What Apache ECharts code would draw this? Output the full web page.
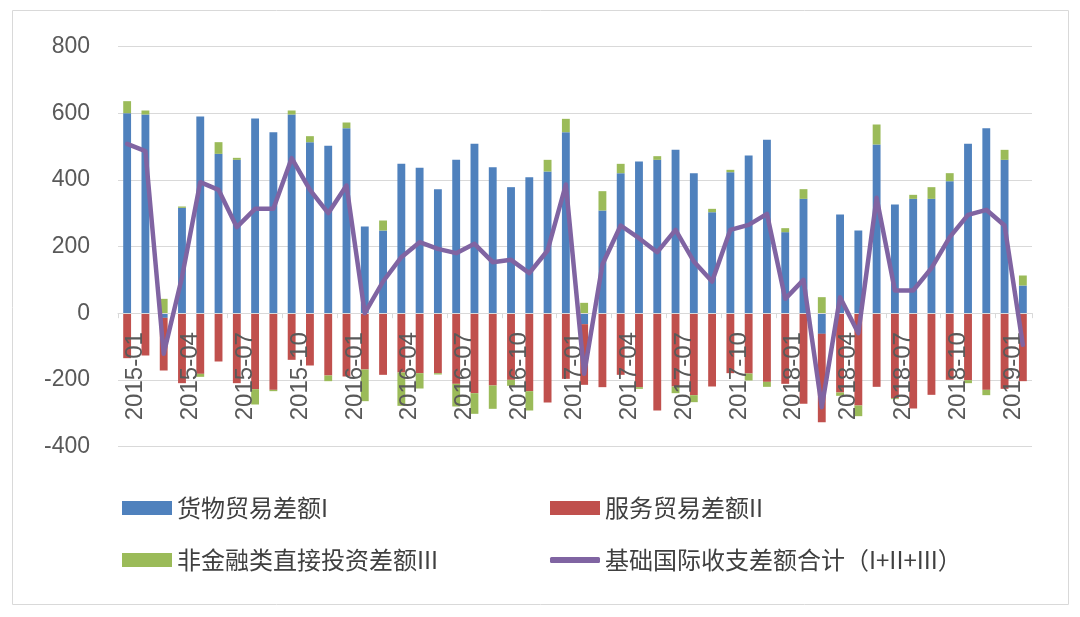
<!DOCTYPE html>
<html>
<head>
<meta charset="utf-8">
<script src="https://cdn.jsdelivr.net/npm/echarts@6/dist/echarts.min.js"></script>
<style>
html,body{margin:0;padding:0;background:#fff;}
#chart{width:1080px;height:617px;}
</style>
</head>
<body>
<div id="chart"></div>
<script>
// Categories: monthly 2015-01 .. 2019-02
const categories = [
  '2015-01','2015-02','2015-03','2015-04','2015-05','2015-06','2015-07','2015-08','2015-09','2015-10','2015-11','2015-12',
  '2016-01','2016-02','2016-03','2016-04','2016-05','2016-06','2016-07','2016-08','2016-09','2016-10','2016-11','2016-12',
  '2017-01','2017-02','2017-03','2017-04','2017-05','2017-06','2017-07','2017-08','2017-09','2017-10','2017-11','2017-12',
  '2018-01','2018-02','2018-03','2018-04','2018-05','2018-06','2018-07','2018-08','2018-09','2018-10','2018-11','2018-12',
  '2019-01','2019-02'
];
// 货物贸易差额I
const goods = [
  600,596,-14,316,590,478,460,584,543,596,513,502,
  555,260,248,448,436,372,460,508,438,378,408,425,
  543,-33,308,420,455,460,490,420,303,423,473,520,
  243,343,-62,296,248,506,326,343,343,396,508,555,
  460,83
];
// 服务贸易差额II
const services = [
  -135,-127,-158,-210,-182,-145,-210,-228,-230,-140,-157,-187,
  -190,-169,-185,-178,-180,-180,-212,-240,-217,-200,-234,-268,
  -197,-182,-222,-185,-222,-292,-220,-246,-220,-180,-181,-206,
  -212,-272,-265,-238,-277,-221,-255,-286,-245,-200,-201,-230,
  -227,-204
];
// 非金融类直接投资差额III
const fdi = [
  36,12,43,4,-9,35,6,-46,-4,12,18,-17,
  17,-95,30,-100,-46,-4,-68,-62,-70,-18,-58,35,
  40,31,58,28,-5,11,-20,-21,10,7,-21,-15,
  12,29,48,-10,-32,60,-3,12,35,24,-9,-16,
  30,30
];
// 基础国际收支差额合计（I+II+III）
const total = [
  508,486,-122,108,393,370,258,313,313,465,370,300,
  383,0,95,168,213,193,180,208,153,160,120,188,
  386,-182,146,263,225,183,250,155,95,250,265,298,
  43,100,-282,48,-60,346,68,68,135,228,295,310,
  263,-95
];
const yTicks = { min: -400, max: 800, interval: 200 };
const names = ['货物贸易差额I','服务贸易差额II','非金融类直接投资差额III','基础国际收支差额合计（I+II+III）'];

const colors = ['#4F81BD','#C0504D','#9BBB59','#8064A2'];
const chart = echarts.init(document.getElementById('chart'));
const gridTop = 46.5, gridBottom = 170.5, chartH = 617;
const plotH = chartH - gridTop - gridBottom;
// distance from grid bottom up to the zero line (derived from the axis range)
const zeroOffset = plotH * (0 - yTicks.min) / (yTicks.max - yTicks.min);

const legendText = { fontSize: 24, color: '#404040', fontFamily: "'Noto Sans CJK SC', sans-serif", lineHeight: 30 };
function leg(name, left, top, isLine) {
  return {
    data: [name], left: left, top: top, orient: 'horizontal',
    itemWidth: 50, itemHeight: isLine ? 6 : 14, itemGap: 0,
    icon: isLine ? 'roundRect' : 'rect',
    textStyle: legendText, selectedMode: false, padding: 0
  };
}
chart.setOption({
  animation: false,
  color: colors,
  graphic: [{
    type: 'rect', shape: { x: 12.5, y: 10.5, width: 1056, height: 594 },
    style: { fill: 'none', stroke: '#d9d9d9', lineWidth: 1 }, silent: true, z: -1
  }],
  grid: { left: 118, right: 48, top: gridTop, bottom: gridBottom, containLabel: false },
  legend: [
    leg(names[0], 122, 493, false),
    leg(names[1], 550, 493, false),
    leg(names[2], 122, 545, false),
    leg(names[3], 550, 545, true)
  ],
  xAxis: {
    type: 'category', data: categories, boundaryGap: true,
    offset: -zeroOffset, z: 10,
    axisLine: { onZero: false, lineStyle: { color: '#d9d9d9', width: 1 } },
    axisTick: { show: true, interval: 2, length: 5, lineStyle: { color: '#d9d9d9' } },
    axisLabel: { interval: 2, rotate: 90, fontSize: 24, color: '#595959', margin: 19,
      verticalAlign: 'top', lineHeight: 17,
      fontFamily: "'Liberation Sans', Arial, sans-serif" },
    splitLine: { show: false }
  },
  yAxis: {
    type: 'value', min: yTicks.min, max: yTicks.max, interval: yTicks.interval,
    axisLine: { show: false }, axisTick: { show: false },
    axisLabel: { fontSize: 23, color: '#595959', margin: 28,
      fontFamily: "'Liberation Sans', Arial, sans-serif" },
    splitLine: { lineStyle: { color: '#d9d9d9', width: 1 } }
  },
  series: [
    { name: names[0], type: 'bar', stack: 'a', data: goods, barWidth: '43%', itemStyle: { color: colors[0] } },
    { name: names[1], type: 'bar', stack: 'a', data: services, itemStyle: { color: colors[1] } },
    { name: names[2], type: 'bar', stack: 'a', data: fdi, itemStyle: { color: colors[2] } },
    { name: names[3], type: 'line', data: total, symbol: 'none', z: 12,
      lineStyle: { color: colors[3], width: 4.5, join: 'round', cap: 'round' },
      itemStyle: { color: colors[3] } }
  ]
});
</script>
</body>
</html>
